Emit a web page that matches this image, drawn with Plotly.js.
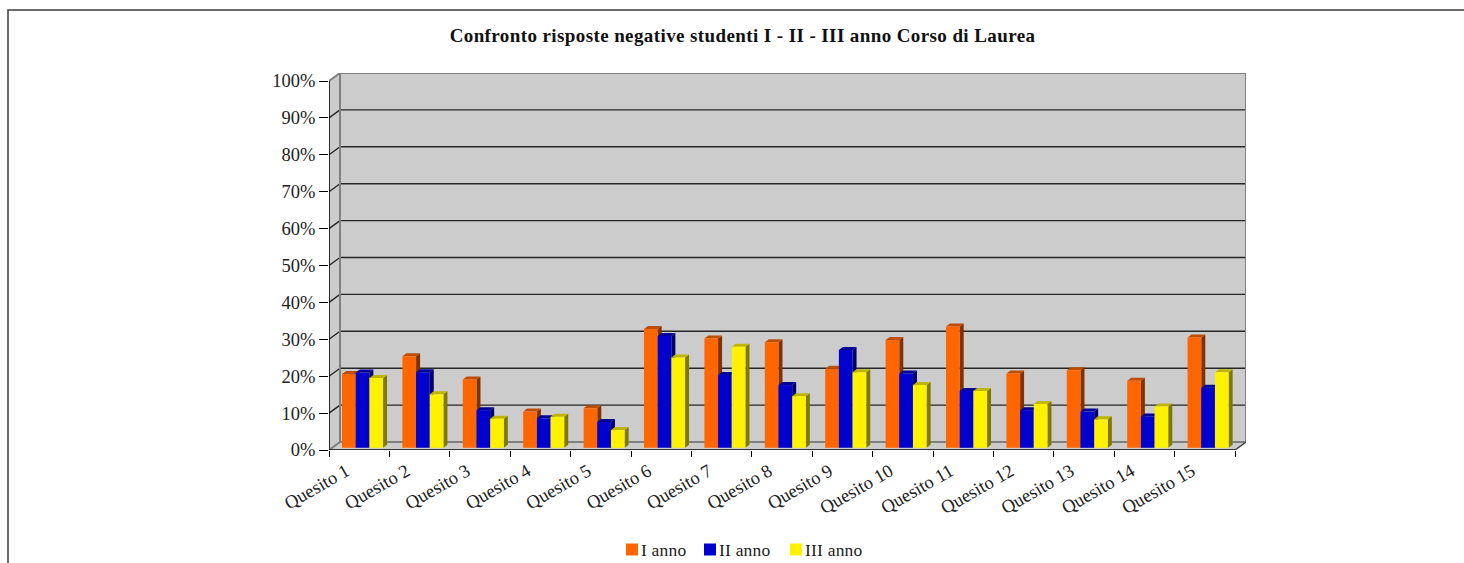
<!DOCTYPE html>
<html><head><meta charset="utf-8">
<script src="https://cdn.plot.ly/plotly-3.0.1.min.js"></script>
<style>html,body{margin:0;padding:0;background:#fff;overflow:hidden}#c{width:1464px;height:563px}
.gtitle{letter-spacing:0.4px}
.legendtext,.legend2text,.legend3text{transform:translateX(-11px);letter-spacing:0.2px}
</style>
</head><body><div id="c"></div>
<script>
const categories = ["Quesito 1","Quesito 2","Quesito 3","Quesito 4","Quesito 5","Quesito 6","Quesito 7","Quesito 8","Quesito 9","Quesito 10","Quesito 11","Quesito 12","Quesito 13","Quesito 14","Quesito 15"];
const annoI   = [20.0,24.8,18.5,9.8,10.7,32.2,29.6,28.6,21.4,29.2,32.9,20.1,21.0,18.2,29.9];
const annoII  = [20.4,20.5,10.2,8.0,7.0,30.3,19.7,17.0,26.5,20.1,15.4,10.2,9.8,8.5,16.3];
const annoIII = [18.9,14.5,7.9,8.4,4.8,24.5,27.4,14.0,20.5,17.0,15.4,11.9,7.7,11.2,20.5];
const seriesNames = ["I anno","II anno","III anno"];
const frontColors = ["#FF6600","#0000CC","#FFF200"];
const topColors   = ["#BF4D00","#000099","#BFB500"];
const sideColors  = ["#803300","#000066","#807900"];

const serif = '"Liberation Serif", serif';
const n = categories.length;
const pxX = 906/n, pxY = 3.69;           // pixels per category / per percent
const wallX = 11/pxX, wallY = 8/pxY;     // depth of the walls
const barX = 4/pxX, barY = 3/pxY;        // depth of the bars
const barW = 13.68/pxX, groupOff = -17.2/pxX, barBase = 0.6;
const xRange = [0, n + wallX], yRange = [0, 100 + wallY];
const series = [annoI, annoII, annoIII];
const centers = categories.map((_, i) => i + 0.5);
const legendIds = ['legend','legend2','legend3'];

const traces = [];
series.forEach((vals, s) => {
  const sx = [], sy = [], tx = [], ty = [];
  vals.forEach((v, i) => {
    const l = centers[i] + groupOff + s*barW, r = l + barW, t = barBase + v, b = barBase;
    sx.push(r, r+barX, r+barX, r, r, null);
    sy.push(b, b+barY, t+barY, t, b, null);
    tx.push(l, l+barX, r+barX, r, l, null);
    ty.push(t, t+barY, t+barY, t, t, null);
  });
  traces.push({type:'scatter',mode:'lines',x:sx,y:sy,fill:'toself',fillcolor:sideColors[s],line:{width:0},showlegend:false,hoverinfo:'skip',xaxis:'x',yaxis:'y'});
  traces.push({type:'scatter',mode:'lines',x:tx,y:ty,fill:'toself',fillcolor:topColors[s],line:{width:0},showlegend:false,hoverinfo:'skip',xaxis:'x',yaxis:'y'});
});
series.forEach((vals, s) => {
  traces.push({type:'bar',name:seriesNames[s],x:centers,y:vals,base:barBase,width:barW,offset:groupOff + s*barW,
    marker:{color:frontColors[s],line:{width:0}},xaxis:'x2',yaxis:'y2',legend:legendIds[s]});
});

const shapes = [];
const L = (x0,y0,x1,y1,color,width) => ({type:'line',xref:'x',yref:'y',x0,y0,x1,y1,layer:'below',line:{color,width}});
shapes.push({type:'path',xref:'x',yref:'y',layer:'below',fillcolor:'#CCCCCC',line:{width:0},
  path:`M0,0 L0,100 L${wallX},${100+wallY} L${n+wallX},${100+wallY} L${n+wallX},${wallY} L${n},0 Z`});
for (let v = 10; v <= 90; v += 10) {
  shapes.push(L(0,v,wallX,v+wallY,'#222222',1.3));
  shapes.push(L(wallX,v+wallY,n+wallX,v+wallY,'#262626',1.4));
}
const edge = '#808080';
shapes.push(L(0,100,wallX,100+wallY,edge,2));
shapes.push(L(wallX,100+wallY,n+wallX,100+wallY,edge,2));
shapes.push(L(wallX,wallY,wallX,100+wallY,edge,2));
shapes.push(L(n+wallX,wallY,n+wallX,100+wallY,edge,2));
shapes.push(L(wallX,wallY,n+wallX,wallY,edge,2));
shapes.push(L(0,0,wallX,wallY,edge,2));
shapes.push(L(n,0,n+wallX,wallY,'#444444',1.5));
const A = (x0,y0,x1,y1) => ({type:'line',xref:'x',yref:'y',x0,y0,x1,y1,layer:'above',line:{color:'#000',width:1.6}});
shapes.push(A(0,0,n,0));
shapes.push(A(0,0,0,100));
const pw = 917, ph = 377;
const fx = (8-329)/pw, fy = (450-10)/ph, fy0 = (450-563)/ph, fx1 = (1464-329)/pw;
shapes.push({type:'path',xref:'paper',yref:'paper',layer:'below',line:{color:'#3C3C3C',width:1.5},
  path:`M${fx},${fy0} L${fx},${fy} L${fx1},${fy}`});

const legendAt = (left) => ({orientation:'h',x:(left-329)/pw,xanchor:'left',y:(450-549.5)/ph,yanchor:'middle',
  font:{family:serif,size:17.5,color:'#222'},itemclick:false,itemdoubleclick:false,bgcolor:'rgba(0,0,0,0)'});

const layout = {
  width:1464,height:563,autosize:false,
  margin:{l:329,r:218,t:73,b:113,pad:0,autoexpand:false},
  paper_bgcolor:'#fff',plot_bgcolor:'rgba(0,0,0,0)',
  font:{family:serif,color:'#1a1a1a'},
  title:{text:'<b>Confronto risposte negative studenti I - II - III anno Corso di Laurea</b>',
    font:{family:serif,size:19,color:'#111'},x:742.5/1464,xanchor:'center',y:1-35.5/563,yanchor:'middle'},
  barmode:'overlay',
  xaxis:{range:xRange,fixedrange:true,showgrid:false,zeroline:false,showline:false,automargin:false,
    tickmode:'array',tickvals:centers,ticktext:categories,ticks:'',tickangle:-30,
    tickfont:{family:serif,size:18.5,color:'#222'},ticklabelshift:-13,ticklabelstandoff:6,
    minor:{tickmode:'array',tickvals:categories.map((_,i)=>i).concat([n]),ticks:'outside',ticklen:6,tickwidth:1,tickcolor:'#000',showgrid:false}},
  yaxis:{range:yRange,fixedrange:true,showgrid:false,zeroline:false,showline:false,automargin:false,
    tickmode:'array',tickvals:[0,10,20,30,40,50,60,70,80,90,100],ticktext:['0%','10%','20%','30%','40%','50%','60%','70%','80%','90%','100%'],
    ticks:'outside',ticklen:9,tickwidth:1,tickcolor:'#000',tickfont:{family:serif,size:18.5,color:'#222'}},
  xaxis2:{range:xRange,overlaying:'x',visible:false,fixedrange:true},
  yaxis2:{range:yRange,overlaying:'y',visible:false,fixedrange:true},
  legend:legendAt(612), legend2:legendAt(690), legend3:legendAt(776),
  shapes,
  showlegend:true
};
Plotly.newPlot('c',traces,layout,{staticPlot:true,displayModeBar:false});
</script></body></html>
